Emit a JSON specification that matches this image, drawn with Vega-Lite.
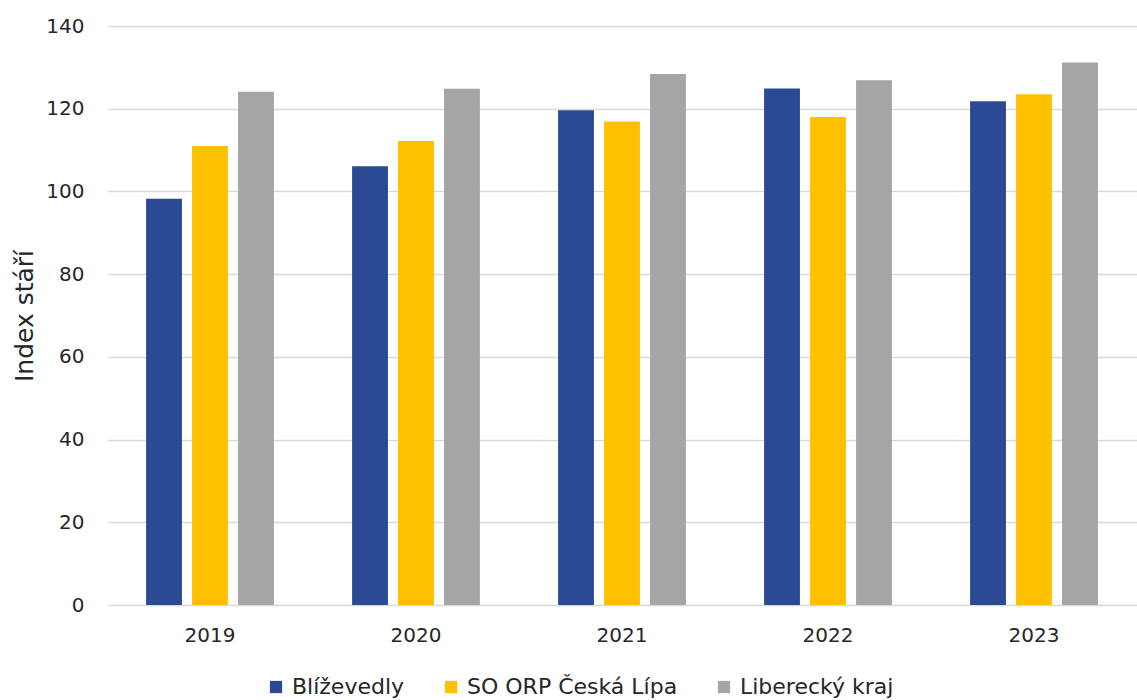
{
  "$schema": "https://vega.github.io/schema/vega-lite/v6.json",
  "autosize": {"type": "none"},
  "padding": {"left": 107, "top": 26, "right": 0, "bottom": 95},
  "width": 1030,
  "height": 579,
  "background": "white",
  "config": {
    "font": "DejaVu Sans",
    "view": {"stroke": null}
  },
  "data": {
    "values": [
      {"rok": "2019", "uzemi": "Blíževedly", "index": 98.2},
      {"rok": "2019", "uzemi": "SO ORP Česká Lípa", "index": 111.0},
      {"rok": "2019", "uzemi": "Liberecký kraj", "index": 124.1},
      {"rok": "2020", "uzemi": "Blíževedly", "index": 106.1},
      {"rok": "2020", "uzemi": "SO ORP Česká Lípa", "index": 112.2},
      {"rok": "2020", "uzemi": "Liberecký kraj", "index": 124.8},
      {"rok": "2021", "uzemi": "Blíževedly", "index": 119.6},
      {"rok": "2021", "uzemi": "SO ORP Česká Lípa", "index": 116.9},
      {"rok": "2021", "uzemi": "Liberecký kraj", "index": 128.4},
      {"rok": "2022", "uzemi": "Blíževedly", "index": 124.9},
      {"rok": "2022", "uzemi": "SO ORP Česká Lípa", "index": 118.0},
      {"rok": "2022", "uzemi": "Liberecký kraj", "index": 126.9},
      {"rok": "2023", "uzemi": "Blíževedly", "index": 121.8},
      {"rok": "2023", "uzemi": "SO ORP Česká Lípa", "index": 123.5},
      {"rok": "2023", "uzemi": "Liberecký kraj", "index": 131.2}
    ]
  },
  "mark": {"type": "bar"},
  "encoding": {
    "x": {
      "field": "rok", "type": "nominal",
      "scale": {"paddingInner": 0, "paddingOuter": 0},
      "axis": {
        "title": null, "labelAngle": 0, "labelFontSize": 20, "labelColor": "#262626",
        "ticks": false, "domain": false, "labelPadding": 20
      }
    },
    "xOffset": {
      "field": "uzemi", "type": "nominal",
      "sort": ["Blíževedly", "SO ORP Česká Lípa", "Liberecký kraj"],
      "scale": {"paddingInner": 0.22, "paddingOuter": 0.85}
    },
    "y": {
      "field": "index", "type": "quantitative",
      "scale": {"domain": [0, 140], "nice": false},
      "axis": {
        "title": "Index stáří", "titleFontSize": 25, "titleFontWeight": "normal", "titleColor": "#262626",
        "titlePadding": 8,
        "values": [0, 20, 40, 60, 80, 100, 120, 140],
        "labelFontSize": 20, "labelColor": "#262626", "labelPadding": 23,
        "ticks": false, "domain": false,
        "gridColor": "#D9D9D9", "gridWidth": 1.5
      }
    },
    "color": {
      "field": "uzemi", "type": "nominal",
      "sort": ["Blíževedly", "SO ORP Česká Lípa", "Liberecký kraj"],
      "scale": {"domain": ["Blíževedly", "SO ORP Česká Lípa", "Liberecký kraj"], "range": ["#2A4B93", "#FFC000", "#A5A5A5"]},
      "legend": {
        "title": null, "orient": "none", "direction": "horizontal",
        "legendX": 158, "legendY": 650,
        "symbolType": "square", "symbolSize": 150, "symbolStrokeWidth": 0,
        "labelFontSize": 22, "labelColor": "#262626", "labelLimit": 500,
        "columnPadding": 35, "labelOffset": 5
      }
    }
  }
}
